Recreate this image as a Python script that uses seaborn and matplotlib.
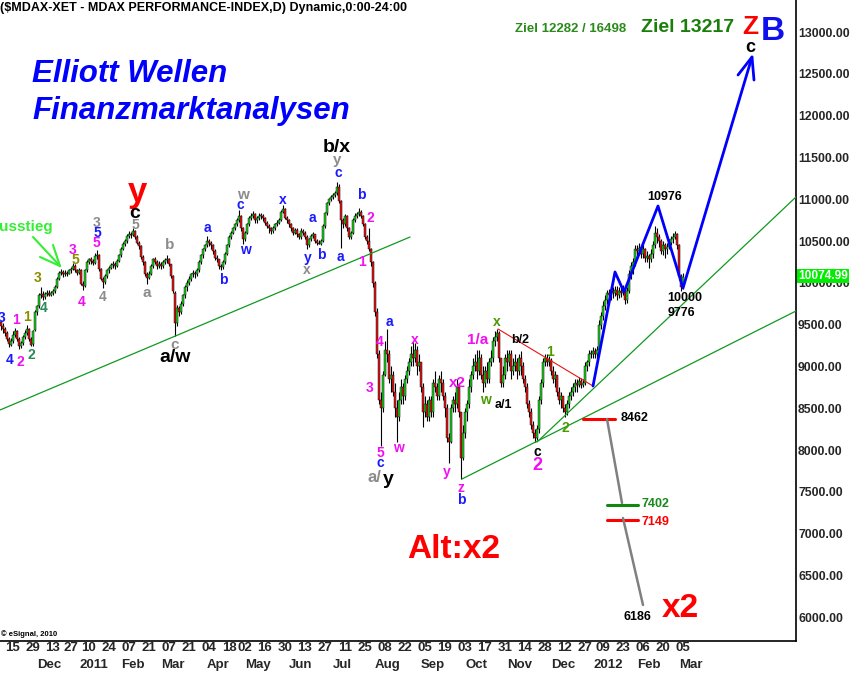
import numpy as np
import pandas as pd
import matplotlib
matplotlib.use("Agg")
import matplotlib.pyplot as plt
import seaborn as sns

holidays = ["2010-12-24", "2010-12-31", "2011-04-22", "2011-04-25", "2011-12-26"]

opens = [
    9530, 9480, 9450, 9400, 9330, 9260, 9300, 9380, 9420, 9330,
    9240, 9280, 9350, 9400, 9450, 9330, 9270, 9430, 9650, 9720,
    9850, 9870, 9830, 9870, 9880, 9860, 9880, 9900, 9950, 10050,
    10120, 10130, 10100, 10120, 10110, 10150, 10170, 10200, 10150, 10120,
    10150, 9990, 9960, 10150, 10250, 10280, 10260, 10240, 10320, 10330,
    10160, 10050, 10010, 10080, 10150, 10180, 10210, 10230, 10200, 10260,
    10330, 10410, 10470, 10500, 10560, 10590, 10570, 10620, 10550, 10480,
    10440, 10310, 10250, 10110, 10060, 10110, 10200, 10280, 10250, 10200,
    10230, 10200, 10250, 10270, 10290, 10220, 10080, 9880, 9520, 9700,
    9650, 9750, 9850, 9950, 10000, 10050, 10100, 10120, 10100, 10150,
    10250, 10330, 10400, 10450, 10500, 10480, 10450, 10380, 10300, 10280,
    10200, 10190, 10250, 10350, 10450, 10550, 10600, 10650, 10700, 10750,
    10800, 10650, 10520, 10600, 10700, 10780, 10800, 10820, 10750, 10780,
    10800, 10800, 10780, 10720, 10680, 10650, 10620, 10650, 10700, 10720,
    10750, 10850, 10880, 10780, 10750, 10700, 10650, 10600, 10630, 10580,
    10550, 10620, 10600, 10550, 10450, 10520, 10560, 10580, 10500, 10480,
    10470, 10500, 10680, 10830, 10950, 11000, 11030, 11050, 11070, 11150,
    10980, 10750, 10700, 10800, 10650, 10550, 10600, 10750, 10800, 10820,
    10850, 10800, 10700, 10550, 10500, 10400, 10250, 10000, 9650, 9150,
    8600, 8500, 8900, 9200, 9150, 8850, 8900, 8700, 8500, 8400,
    8600, 8750, 8650, 8850, 8950, 9050, 9150, 9100, 9200, 9000,
    9050, 8750, 8450, 8550, 8400, 8600, 8450, 8800, 8750, 8650,
    8850, 8800, 8650, 8500, 8150, 8100, 8500, 8600, 8550, 8750,
    8450, 7900, 8200, 8450, 8550, 8750, 8900, 9000, 9050, 8950,
    9100, 8900, 8800, 8950, 8850, 9050, 9100, 9300, 9350, 9400,
    9100, 8800, 8900, 9100, 9050, 9150, 8950, 9000, 9050, 8950,
    9100, 9000, 8850, 8750, 8550, 8450, 8300, 8200, 8150, 8250,
    8600, 8800, 9050, 9100, 9050, 9080, 8950, 8850, 8900, 8700,
    8600, 8650, 8500, 8450, 8550, 8650, 8700, 8750, 8800, 8780,
    8820, 8780, 8800, 9000, 9050, 9150, 9150, 9180, 9150, 9200,
    9500, 9600, 9720, 9800, 9880, 9850, 9900, 9880, 9920, 9860,
    9900, 9880, 9930, 9800, 9900, 10100, 10200, 10250, 10400, 10380,
    10420, 10350, 10400, 10300, 10320, 10280, 10350, 10450, 10600, 10550,
    10500, 10380, 10450, 10400, 10430, 10480, 10520, 10550, 10580, 10450,
    10080, 9950,
]
highs = [
    9560, 9520, 9470, 9420, 9350, 9340, 9420, 9460, 9440, 9350,
    9310, 9380, 9430, 9500, 9460, 9350, 9440, 9670, 9740, 9880,
    9950, 9900, 9890, 9920, 9910, 9900, 9930, 9970, 10070, 10140,
    10160, 10150, 10150, 10140, 10170, 10190, 10240, 10220, 10170, 10180,
    10160, 10020, 10170, 10270, 10300, 10310, 10290, 10360, 10390, 10340,
    10180, 10070, 10100, 10170, 10200, 10240, 10260, 10250, 10280, 10350,
    10430, 10490, 10520, 10580, 10620, 10610, 10650, 10630, 10570, 10500,
    10450, 10330, 10260, 10130, 10140, 10230, 10300, 10310, 10270, 10260,
    10250, 10270, 10300, 10330, 10300, 10230, 10090, 9900, 9730, 9720,
    9780, 9870, 9970, 10030, 10080, 10120, 10150, 10140, 10180, 10270,
    10350, 10420, 10470, 10560, 10530, 10500, 10460, 10400, 10330, 10290,
    10230, 10270, 10370, 10470, 10570, 10620, 10670, 10720, 10780, 10870,
    10810, 10670, 10620, 10720, 10800, 10830, 10860, 10830, 10800, 10830,
    10840, 10820, 10790, 10740, 10700, 10670, 10680, 10720, 10750, 10780,
    10870, 10930, 10890, 10800, 10760, 10720, 10670, 10660, 10650, 10600,
    10650, 10640, 10620, 10570, 10540, 10590, 10610, 10590, 10530, 10510,
    10530, 10700, 10850, 10970, 11020, 11050, 11070, 11100, 11210, 11180,
    10990, 10780, 10820, 10810, 10670, 10620, 10770, 10830, 10850, 10900,
    10870, 10810, 10710, 10570, 10650, 10420, 10260, 10020, 9700, 9200,
    8700, 8950, 9300, 9450, 9200, 9000, 8950, 8800, 8600, 8700,
    8850, 8800, 8900, 9000, 9100, 9250, 9300, 9280, 9250, 9150,
    9050, 8800, 8650, 8600, 8650, 8650, 8850, 8950, 8800, 8900,
    8950, 8850, 8700, 8550, 8200, 8550, 8650, 8700, 8850, 8800,
    8450, 8300, 8500, 8600, 8850, 8950, 9100, 9150, 9200, 9200,
    9150, 9000, 9000, 9050, 9100, 9200, 9350, 9420, 9450, 9420,
    9100, 9000, 9150, 9200, 9200, 9200, 9100, 9150, 9100, 9150,
    9180, 9050, 8900, 8800, 8600, 8500, 8350, 8250, 8300, 8650,
    8850, 9100, 9150, 9150, 9120, 9100, 9000, 8950, 8900, 8750,
    8700, 8650, 8550, 8600, 8700, 8750, 8800, 8850, 8850, 8870,
    8860, 8850, 9050, 9080, 9200, 9200, 9230, 9220, 9250, 9550,
    9650, 9780, 9850, 9920, 9930, 9950, 9950, 9960, 9960, 9950,
    9940, 9980, 9950, 9950, 10150, 10250, 10300, 10450, 10450, 10480,
    10450, 10450, 10420, 10380, 10350, 10400, 10500, 10680, 10650, 10580,
    10520, 10500, 10480, 10480, 10520, 10560, 10600, 10620, 10600, 10470,
    10100, 10120,
]
lows = [
    9440, 9400, 9360, 9300, 9230, 9240, 9280, 9350, 9300, 9210,
    9220, 9260, 9330, 9380, 9300, 9240, 9250, 9420, 9620, 9700,
    9820, 9800, 9810, 9840, 9840, 9840, 9860, 9880, 9940, 10030,
    10090, 10070, 10080, 10080, 10100, 10120, 10150, 10130, 10090, 10100,
    9970, 9910, 9950, 10130, 10220, 10230, 10210, 10230, 10290, 10140,
    10030, 9940, 9990, 10060, 10120, 10160, 10180, 10170, 10190, 10250,
    10310, 10390, 10440, 10480, 10540, 10540, 10560, 10520, 10460, 10410,
    10280, 10210, 10080, 9990, 10040, 10090, 10180, 10220, 10170, 10180,
    10170, 10180, 10230, 10240, 10200, 10060, 9880, 9370, 9480, 9600,
    9630, 9720, 9820, 9900, 9970, 10020, 10070, 10060, 10080, 10130,
    10230, 10300, 10380, 10430, 10440, 10410, 10350, 10270, 10250, 10170,
    10150, 10170, 10230, 10330, 10430, 10520, 10580, 10630, 10680, 10730,
    10620, 10470, 10500, 10580, 10680, 10750, 10770, 10720, 10720, 10750,
    10760, 10740, 10690, 10650, 10600, 10590, 10600, 10630, 10680, 10700,
    10740, 10830, 10760, 10720, 10670, 10620, 10570, 10580, 10550, 10520,
    10530, 10570, 10520, 10410, 10430, 10500, 10540, 10480, 10450, 10460,
    10450, 10490, 10660, 10810, 10930, 10980, 11000, 11030, 11050, 10960,
    10420, 10660, 10680, 10620, 10520, 10530, 10580, 10730, 10780, 10800,
    10780, 10680, 10530, 10470, 10380, 10200, 9950, 9600, 9100, 8550,
    8050, 8450, 8880, 9050, 8800, 8700, 8650, 8400, 8100, 8350,
    8550, 8550, 8600, 8800, 8900, 9000, 9000, 9050, 8900, 8950,
    8700, 8270, 8400, 8350, 8350, 8400, 8400, 8700, 8600, 8600,
    8700, 8600, 8400, 8100, 7850, 8080, 8450, 8450, 8500, 8400,
    7650, 7880, 8150, 8350, 8500, 8700, 8850, 8950, 8850, 8900,
    8850, 8700, 8750, 8800, 8800, 9000, 9050, 9250, 9300, 9050,
    8750, 8750, 8850, 8950, 9000, 8850, 8900, 8950, 8850, 8900,
    8900, 8800, 8700, 8500, 8400, 8250, 8150, 8100, 8120, 8200,
    8550, 8750, 9000, 9000, 9000, 8900, 8800, 8750, 8650, 8550,
    8500, 8450, 8400, 8420, 8500, 8600, 8650, 8700, 8700, 8750,
    8740, 8750, 8780, 8950, 9000, 9100, 9100, 9100, 9100, 9180,
    9450, 9550, 9680, 9750, 9780, 9800, 9820, 9840, 9800, 9820,
    9830, 9850, 9750, 9760, 9880, 10050, 10100, 10200, 10300, 10330,
    10300, 10300, 10250, 10250, 10180, 10250, 10300, 10420, 10480, 10430,
    10350, 10330, 10300, 10350, 10400, 10450, 10480, 10520, 10400, 10030,
    9900, 9930,
]
closes = [
    9480, 9450, 9400, 9330, 9270, 9300, 9380, 9420, 9330, 9240,
    9280, 9350, 9400, 9450, 9330, 9260, 9420, 9650, 9720, 9850,
    9870, 9830, 9870, 9880, 9860, 9880, 9900, 9950, 10050, 10120,
    10130, 10100, 10120, 10110, 10150, 10170, 10200, 10150, 10120, 10150,
    9990, 9960, 10150, 10250, 10280, 10260, 10240, 10320, 10330, 10160,
    10050, 10010, 10080, 10150, 10180, 10210, 10230, 10200, 10260, 10330,
    10410, 10470, 10500, 10560, 10590, 10570, 10620, 10550, 10480, 10440,
    10310, 10250, 10110, 10060, 10110, 10200, 10280, 10250, 10200, 10230,
    10200, 10250, 10270, 10290, 10220, 10080, 9900, 9520, 9700, 9650,
    9750, 9850, 9950, 10000, 10050, 10100, 10120, 10100, 10150, 10250,
    10330, 10400, 10450, 10500, 10480, 10450, 10380, 10300, 10280, 10200,
    10190, 10250, 10350, 10450, 10550, 10600, 10650, 10700, 10750, 10800,
    10650, 10520, 10600, 10700, 10780, 10800, 10820, 10750, 10780, 10800,
    10800, 10780, 10720, 10680, 10650, 10620, 10650, 10700, 10720, 10750,
    10850, 10880, 10780, 10750, 10700, 10650, 10600, 10630, 10580, 10550,
    10620, 10600, 10550, 10450, 10520, 10560, 10580, 10500, 10480, 10470,
    10500, 10680, 10830, 10950, 11000, 11030, 11050, 11070, 11150, 10980,
    10750, 10700, 10800, 10650, 10550, 10600, 10750, 10800, 10820, 10850,
    10800, 10700, 10550, 10500, 10400, 10250, 10000, 9650, 9150, 8600,
    8500, 8900, 9200, 9150, 8850, 8900, 8700, 8500, 8400, 8600,
    8750, 8650, 8850, 8950, 9050, 9150, 9100, 9200, 9000, 9050,
    8750, 8450, 8550, 8400, 8600, 8450, 8800, 8750, 8650, 8850,
    8800, 8650, 8500, 8150, 8100, 8500, 8600, 8550, 8750, 8450,
    7900, 8200, 8450, 8550, 8750, 8900, 9000, 9050, 8950, 9100,
    8900, 8800, 8950, 8850, 9050, 9100, 9300, 9350, 9400, 9100,
    8800, 8900, 9100, 9050, 9150, 8950, 9000, 9050, 8950, 9100,
    9000, 8850, 8750, 8550, 8450, 8300, 8200, 8150, 8250, 8600,
    8800, 9050, 9100, 9050, 9080, 8950, 8850, 8900, 8700, 8600,
    8650, 8500, 8450, 8550, 8650, 8700, 8750, 8800, 8780, 8820,
    8780, 8800, 9000, 9050, 9150, 9150, 9180, 9150, 9200, 9500,
    9600, 9720, 9800, 9880, 9850, 9900, 9880, 9920, 9860, 9900,
    9880, 9930, 9800, 9900, 10100, 10200, 10250, 10400, 10380, 10420,
    10350, 10400, 10300, 10320, 10280, 10350, 10450, 10600, 10550, 10500,
    10380, 10450, 10400, 10430, 10480, 10520, 10550, 10580, 10450, 10080,
    9950, 10074.99,
]

tick_dates = ["2010-11-15", "2010-11-29", "2010-12-13", "2010-12-27", "2011-01-10",
              "2011-01-24", "2011-02-07", "2011-02-21", "2011-03-07", "2011-03-21",
              "2011-04-04", "2011-04-18", "2011-05-02", "2011-05-16", "2011-05-30",
              "2011-06-13", "2011-06-27", "2011-07-11", "2011-07-25", "2011-08-08",
              "2011-08-22", "2011-09-05", "2011-09-19", "2011-10-03", "2011-10-17",
              "2011-10-31", "2011-11-14", "2011-11-28", "2011-12-12", "2011-12-27",
              "2012-01-09", "2012-01-23", "2012-02-06", "2012-02-20", "2012-03-05"]

# Trendlinien / Prognose (Bar-Index, Kurs)
green_1_x, green_1_y = [-0.5, 204.5], [8479, 10548]
green_lo_x, green_lo_y = [230.5, 397.5], [7654, 9663]
green_up_x, green_up_y = [268, 397.5], [8096, 11027]
red_res_x, red_res_y = [248.5, 296], [9448, 8766]
blue_x = [296, 307, 311.5, 328.5, 341, 375.5]
blue_y = [8766, 10130, 9890, 10919, 9938, 12701]
arrow_x, arrow_y = [368.5, 375.5, 376.5], [12486, 12701, 12426]

W, H = 852, 674
MAG, BLU, GRY, BLK = "#f010f0", "#1a1aff", "#8c8c8c", "#000000"
OLV, TEAL, GRN = "#8c8c00", "#2a8a5a", "#4c9a00"

# Wellen-Beschriftungen (Text, Pixel x, Pixel y, Farbe, Größe)
wave_labels = [
    ("3", 2, 318, BLU, 10), ("4", 10, 360, BLU, 10), ("1", 16, 320, MAG, 10),
    ("2", 20, 362, MAG, 10), ("1", 27, 317, OLV, 10), ("2", 31, 355, TEAL, 10),
    ("3", 38, 278, OLV, 10), ("4", 44, 308, TEAL, 10), ("3", 73, 250, MAG, 10),
    ("5", 75, 260, OLV, 10), ("4", 82, 302, MAG, 10), ("3", 97, 223, GRY, 10),
    ("5", 97, 233, BLU, 10), ("5", 96, 243, MAG, 10), ("4", 103, 297, GRY, 10),
    ("5", 135, 225, GRY, 10), ("a", 147, 293, GRY, 11), ("b", 170, 245, GRY, 11),
    ("c", 175, 345, GRY, 11), ("a", 207, 228, BLU, 10), ("b", 223, 280, BLU, 10),
    ("c", 240, 205, BLU, 10), ("w", 243, 195, GRY, 11), ("w", 245, 250, BLU, 10),
    ("x", 283, 200, BLU, 10), ("a", 312, 218, BLU, 10), ("y", 308, 258, BLU, 10),
    ("b", 321, 255, BLU, 10), ("x", 307, 270, GRY, 10), ("c", 338, 173, BLU, 10),
    ("y", 337, 160, GRY, 11), ("a", 340, 257, BLU, 10), ("b", 361, 195, BLU, 10),
    ("2", 370, 218, MAG, 10), ("1", 362, 262, MAG, 10), ("a", 389, 322, BLU, 10),
    ("4", 380, 342, MAG, 10), ("3", 370, 388, MAG, 10), ("5", 380, 453, MAG, 10),
    ("c", 380, 463, BLU, 10), ("w", 398, 448, MAG, 10), ("x", 415, 340, MAG, 10),
    ("x2", 457, 383, MAG, 11), ("y", 447, 472, MAG, 10), ("z", 461, 488, MAG, 10),
    ("b", 461, 500, BLU, 10), ("1/a", 478, 340, MAG, 11), ("x", 497, 322, GRN, 10),
    ("w", 485, 400, GRN, 10), ("a/1", 503, 405, BLK, 9), ("b/2", 520, 340, BLK, 9),
    ("1", 550, 352, GRN, 10), ("c", 537, 452, BLK, 10), ("2", 537, 465, MAG, 13),
    ("2", 565, 428, GRN, 10),
]

sns.set_style("white")
plt.rcParams["font.family"] = ["Liberation Sans", "DejaVu Sans"]

days = pd.bdate_range("2010-11-05", "2012-03-05")
days = days[~days.isin(pd.to_datetime(holidays))]
df = pd.DataFrame({"date": days, "open": opens, "high": highs,
                   "low": lows, "close": closes})
df["idx"] = np.arange(len(df))
up = df["close"] >= df["open"]

fig = plt.figure(figsize=(W / 100, H / 100), dpi=100)
ax = fig.add_axes([0, 33 / H, 796 / W, 641 / H])

# Kerzen
ax.vlines(df["idx"], df["low"], df["high"], color="black", lw=0.8, zorder=2)
body_lo = df[["open", "close"]].min(axis=1)
body_h = (df["close"] - df["open"]).abs().clip(lower=8)
ax.bar(df["idx"], body_h, bottom=body_lo, width=1.0,
       color=np.where(up, "#22cc22", "#e01818"), edgecolor="black",
       linewidth=0.3, zorder=3)

# Trendlinien
for xs, ys in [(green_1_x, green_1_y), (green_lo_x, green_lo_y), (green_up_x, green_up_y)]:
    ax.plot(xs, ys, color="#11991f", lw=0.9, zorder=4)
ax.plot(red_res_x, red_res_y, color="#ee1111", lw=0.8, zorder=4)
sns.lineplot(x=blue_x, y=blue_y, sort=False, estimator=None, color="#0000ff",
             lw=2, ax=ax, zorder=5)
ax.plot(arrow_x, arrow_y, color="#0000ff", lw=2, zorder=5)

# Kursziele
ax.plot([291, 307], [8371, 8371], color="#ff0000", lw=2.2, zorder=4)
ax.plot([303, 310.5], [8371, 7367], color="#808080", lw=1.8, zorder=4)
ax.plot([303, 318.5], [7343, 7343], color="#118811", lw=2.2, zorder=4)
ax.plot([303, 318.5], [7164, 7164], color="#ff0000", lw=2.2, zorder=4)
ax.plot([311, 321], [7187, 6147], color="#808080", lw=1.8, zorder=4)

ax.set_xlim(-0.5, 397.5)
ax.set_ylim(5716, 13383)
for s in ["top", "left"]:
    ax.spines[s].set_visible(False)
for s in ["right", "bottom"]:
    ax.spines[s].set_color("black")
    ax.spines[s].set_linewidth(1.2)

ax.yaxis.tick_right()
yt = np.arange(6000, 13001, 500)
ax.set_yticks(yt, [f"{v:.2f}" for v in yt], fontsize=8.8, fontweight="bold")
ax.tick_params(axis="y", length=0, pad=1.5)

tick_idx = [int(df.index[df["date"] == pd.Timestamp(d)][0]) for d in tick_dates]
ax.set_xticks(tick_idx, [pd.Timestamp(d).strftime("%d") for d in tick_dates],
              fontsize=9.5, fontweight="bold")
ax.tick_params(axis="x", length=0, pad=1)

month_first = df.groupby(df["date"].dt.to_period("M"))["idx"].min().iloc[1:]
for per, i in month_first.items():
    lab = str(per.year) if per.month == 1 else per.strftime("%b")
    ax.text(i, -24 / 641, lab, transform=ax.get_xaxis_transform(), ha="left",
            va="center", fontsize=9.5, fontweight="bold", clip_on=False)


def put(s, x, y, color, size, ha="center", va="center", style="normal", **kw):
    fig.text(x / W, 1 - y / H, s, color=color, fontsize=size, fontweight="bold",
             ha=ha, va=va, fontstyle=style, **kw)


for s, x, y, c, sz in wave_labels:
    put(s, x, y, c, sz)

put("($MDAX-XET - MDAX PERFORMANCE-INDEX,D) Dynamic,0:00-24:00", 0, 8, BLK, 9, ha="left")
put("Elliott Wellen", 32, 82, "#0000ff", 22.5, ha="left", va="baseline", style="italic")
put("Finanzmarktanalysen", 32, 119, "#0000ff", 22.5, ha="left", va="baseline", style="italic")
put("Ziel 12282 / 16498", 515, 32, "#2a8a1a", 9.5, ha="left", va="baseline")
put("Ziel 13217", 641, 32, "#1a7f0a", 14, ha="left", va="baseline")
put("Z", 750, 34, "#ff0000", 19, va="baseline")
put("B", 773, 40, "#1010ee", 24, va="baseline")
put("c", 750, 47, BLK, 13)
put("Ausstieg", -11, 227, "#33ee33", 11, ha="left")
put("y", 137, 193, "#ff0000", 25)
put("c", 135, 214, BLK, 14)
put("b/x", 337, 148, BLK, 14)
put("a/w", 175, 358, BLK, 14)
put("a/", 374, 478, GRY, 12)
put("y", 388, 480, BLK, 14)
put("Alt:x2", 407, 558, "#ff0000", 24, ha="left", va="baseline")
put("x2", 662, 617, "#ff0000", 24, ha="left", va="baseline")
put("10976", 665, 197, BLK, 9)
put("10000", 685, 298, BLK, 9)
put("9776", 681, 313, BLK, 9)
put("8462", 635, 418, BLK, 9)
put("7402", 655, 504, "#1a8a1a", 9)
put("7149", 655, 522, "#ff0000", 9)
put("6186", 637, 617, BLK, 9)
put("\u00a9 eSignal, 2010", 1, 634, BLK, 5.5, ha="left")
put("10074.99", 798, 276, "white", 8.6, ha="left",
    bbox=dict(boxstyle="square,pad=0.12", fc="#00ee00", ec="none"))

# Pfeil zum Ausstieg
for x0, y0 in [(33, 237), (40, 257), (53, 245)]:
    fig.add_artist(plt.Line2D([x0 / W, 60 / W], [1 - y0 / H, 1 - 266 / H],
                              color="#33ee33", lw=1.5))

fig.savefig("out.png", dpi=100)
